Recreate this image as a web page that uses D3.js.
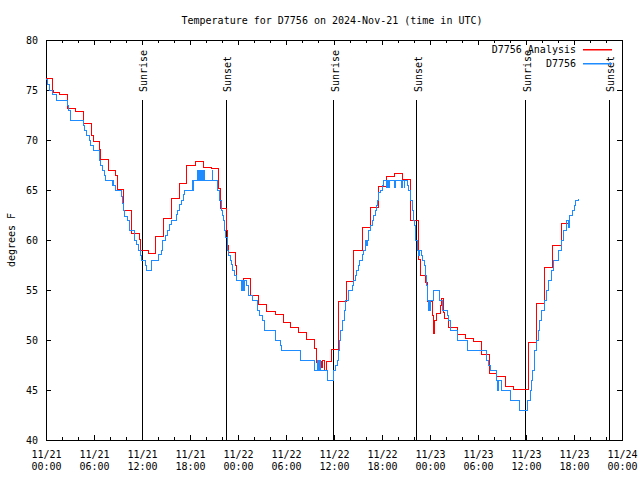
<!DOCTYPE html>
<html><head><meta charset="utf-8">
<script src="https://cdn.jsdelivr.net/npm/d3@7"></script>
<style>
body{margin:0;background:#fff}
svg text{font-family:"DejaVu Sans Mono","Liberation Mono",monospace;font-size:10px;fill:#000}
</style>
</head><body>
<svg id="chart" width="640" height="480"></svg>
<script>
// ---------------- data ----------------
const title = "Temperature for D7756 on 2024-Nov-21 (time in UTC)";
const yLabel = "degrees F";
const seriesNames = ["D7756 Analysis", "D7756"];
const startUTC = Date.UTC(2024, 10, 21);          // 11/21 00:00 UTC
const xDomainHours = [0, 72];
const yDomain = [40, 80];
const yTicks = [40, 45, 50, 55, 60, 65, 70, 75, 80];
const xMajorHours = [0, 6, 12, 18, 24, 30, 36, 42, 48, 54, 60, 66, 72];
const xMinorHours = [2, 4, 8, 10, 14, 16, 20, 22, 26, 28, 32, 34, 38, 40, 44, 46, 50, 52, 56, 58, 62, 64, 68, 70];
const sunriseHours = [11.95, 35.92, 59.9];
const sunsetHours = [22.45, 46.3, 70.33];

// analysis [hours since 11/21 00:00, deg F]
const analysis = [
[0,76.2],[0.79,75.0],[0.9,74.8],[1.74,74.6],[2.66,73.2],[3.74,72.9],[4.69,71.7],[5.69,70.5],
[5.9,69.9],[6.64,69.1],[6.85,68.1],[7.76,67.0],[8.72,66.5],[8.88,65.1],[9.63,63.0],[10.67,60.7],
[11.63,60.1],[11.79,59.0],[12.75,58.7],[13.66,60.4],[14.74,62.2],[15.65,64.2],[16.69,65.7],
[17.6,67.5],[18.68,67.9],[19.68,67.3],[20.64,67.2],[21.6,65.2],[21.85,63.2],[22.6,61.0],
[22.71,59.5],[22.83,58.8],[23.67,57.5],[23.84,56.0],[24.66,56.2],[25.6,54.5],[26.58,53.6],
[27.6,52.9],[28.65,52.6],[29.65,51.8],[30.6,51.3],[31.56,50.8],[32.55,50.1],[33.6,49.2],
[33.75,47.8],[34.0,47.2],[34.2,47.9],[34.4,47.3],[34.6,48.0],[34.8,47.0],[35.0,47.9],
[35.67,49.1],[36.5,53.9],[37.54,55.9],[38.49,59.0],[39.6,61.3],[40.57,63.3],[41.52,65.4],
[42.5,66.4],[43.5,66.7],[44.5,66.1],[45.55,62.0],[46.5,58.1],[46.8,56.5],[47.42,55.8],
[47.63,53.9],[48.25,52.5],[48.45,50.7],[48.52,52.0],[48.79,52.7],[49.29,53.5],[49.41,54.2],
[49.7,52.8],[49.78,52.2],[50.33,51.3],[51.4,50.6],[52.4,50.2],[53.44,49.9],[54.39,48.6],
[55.39,46.7],[56.34,46.4],[57.39,45.4],[58.42,45.1],[60.29,49.8],[61.32,53.7],[62.28,57.3],
[63.32,59.5],[64.44,61.7],[65.27,61.7]
];

// observations [hours since 11/21 00:00, deg F]
const observed = [
[0,76.1],[0.15,75.6],[0.42,75.0],[0.83,74.6],[1.25,74.0],[2.66,73.5],[2.78,73.0],[3.11,72.0],
[4.69,71.5],[4.8,71.0],[5.1,70.5],[5.4,70.0],[5.6,69.5],[5.9,69.0],[6.64,68.0],[6.85,67.5],
[7.06,67.0],[7.3,66.5],[7.43,66.0],[8.3,65.5],[8.36,66.0],[8.45,65.5],[8.72,65.0],[9.43,64.4],
[9.55,63.7],[9.7,63.0],[9.84,62.4],[10.13,62.0],[10.47,61.0],[11.09,60.0],[11.29,59.6],
[11.5,59.0],[11.79,58.5],[11.92,58.0],[12.46,57.5],[12.54,57.0],[13.24,58.0],[14.12,58.6],
[14.41,59.0],[14.62,60.0],[14.95,60.5],[15.16,61.0],[15.45,61.6],[15.65,62.0],[16.28,62.6],
[16.48,63.0],[16.69,63.6],[16.9,64.0],[17.19,64.6],[17.31,65.0],[18.25,66.0],[18.32,65.0],
[18.44,66.0],[18.95,67.0],[19.02,66.0],[19.2,67.0],[19.27,66.0],[19.45,67.0],[19.52,66.0],
[19.7,67.0],[19.77,66.0],[20.8,67.0],[20.87,66.0],[21.47,65.0],[21.67,64.0],[21.88,63.0],
[22.0,62.5],[22.17,62.0],[22.3,61.0],[22.42,60.3],[22.71,59.0],[22.83,58.5],[23.0,58.0],
[23.2,57.6],[23.34,57.0],[23.55,56.5],[23.75,56.0],[24.4,55.0],[24.5,56.0],[24.7,55.0],
[24.8,56.0],[25.0,55.5],[25.33,54.5],[25.83,54.0],[26.45,53.0],[26.66,52.5],[27.07,52.0],
[27.28,51.0],[28.73,50.0],[29.35,49.5],[29.48,49.0],[31.84,48.0],[33.5,47.0],[33.9,48.0],
[34.0,47.0],[34.2,48.0],[34.3,47.0],[35.17,46.0],[35.99,47.0],[36.2,47.5],[36.41,48.0],
[36.53,49.0],[36.7,50.0],[36.83,51.0],[37.04,52.0],[37.25,53.0],[37.45,54.0],[37.78,55.0],
[38.28,55.5],[38.4,56.0],[38.7,56.5],[38.82,57.0],[39.03,57.5],[39.2,58.0],[39.53,58.6],
[39.74,59.0],[39.94,60.0],[40.1,59.5],[40.2,60.0],[40.36,61.0],[40.57,61.5],[40.77,62.0],
[40.98,62.5],[41.19,63.0],[41.3,63.5],[41.4,64.0],[41.52,64.5],[41.61,64.8],[41.82,65.0],
[42.02,65.5],[42.23,66.0],[42.6,65.3],[42.7,66.0],[42.85,65.3],[42.95,66.0],[43.6,65.3],
[43.7,66.0],[44.4,65.3],[44.5,66.0],[44.75,65.3],[44.85,66.0],[45.14,65.5],[45.35,65.0],
[45.55,64.0],[45.76,63.0],[45.97,62.0],[46.1,61.5],[46.2,60.0],[46.38,59.0],[46.55,58.5],
[46.65,59.0],[46.9,58.5],[47.1,58.0],[47.35,57.5],[47.45,56.5],[47.55,55.5],[47.7,54.0],
[47.85,53.0],[47.95,54.0],[48.0,53.0],[48.1,54.0],[48.4,55.0],[49.2,54.0],[49.6,53.0],
[50.2,52.5],[50.3,52.0],[50.5,51.0],[51.45,50.0],[52.7,49.0],[55.05,48.0],[55.3,47.5],
[55.5,47.0],[56.35,46.0],[56.45,45.0],[56.55,46.0],[56.97,45.0],[58.0,44.0],[59.13,43.0],
[60.2,44.0],[60.5,45.0],[60.71,46.0],[60.83,47.0],[61.0,48.0],[61.12,49.0],[61.33,50.0],
[61.53,51.0],[61.74,52.0],[61.95,53.0],[62.28,54.0],[62.57,55.0],[62.78,56.0],[63.19,57.0],
[63.4,58.0],[64.1,59.0],[64.44,60.0],[64.65,61.0],[65.06,62.0],[65.3,61.3],[65.38,62.5],
[65.8,63.0],[66.0,63.5],[66.2,64.0],[66.52,64.1]
];

// ---------------- drawing ----------------
const toDate = h => new Date(startUTC + h * 3600e3);
const m = {left: 46, right: 622, top: 40, bottom: 440};
const svg = d3.select("#chart");

const x = d3.scaleUtc().domain(xDomainHours.map(toDate)).range([m.left, m.right]);
const y = d3.scaleLinear().domain(yDomain).range([m.bottom, m.top]);

const fmtDay = d3.utcFormat("%m/%d"), fmtTime = d3.utcFormat("%H:%M");

// title
svg.append("text").attr("x", 332).attr("y", 24).attr("text-anchor", "middle").text(title);
// y label
svg.append("text").attr("transform", "translate(15,240) rotate(-90)")
  .attr("text-anchor", "middle").text(yLabel);

// axes: bottom major
const gB = svg.append("g").attr("transform", `translate(0,${m.bottom})`)
  .call(d3.axisBottom(x).tickValues(xMajorHours.map(toDate)).tickSize(-5).tickPadding(0));
gB.selectAll(".tick text").each(function(d) {
  const t = d3.select(this).text(null).attr("y", 0).attr("dy", null);
  t.append("tspan").attr("x", 0).attr("y", 18).text(fmtDay(d));
  t.append("tspan").attr("x", 0).attr("y", 30).text(fmtTime(d));
});
// bottom minor
svg.append("g").attr("transform", `translate(0,${m.bottom})`)
  .call(d3.axisBottom(x).tickValues(xMinorHours.map(toDate)).tickSize(-3).tickFormat(""));
// top mirror
svg.append("g").attr("transform", `translate(0,${m.top})`)
  .call(d3.axisTop(x).tickValues(xMajorHours.map(toDate)).tickSize(-5).tickFormat(""));
svg.append("g").attr("transform", `translate(0,${m.top})`)
  .call(d3.axisTop(x).tickValues(xMinorHours.map(toDate)).tickSize(-3).tickFormat(""));
// left
svg.append("g").attr("transform", `translate(${m.left},0)`)
  .call(d3.axisLeft(y).tickValues(yTicks).tickSize(-5).tickPadding(8).tickFormat(d3.format("d")));
// right mirror
svg.append("g").attr("transform", `translate(${m.right},0)`)
  .call(d3.axisRight(y).tickValues(yTicks).tickSize(-5).tickFormat(""));

svg.selectAll(".domain").remove();
svg.selectAll(".tick line").attr("stroke", "#000").attr("shape-rendering", "crispEdges");
svg.selectAll(".tick text").attr("font-family", null).attr("font-size", null);

// frame
svg.append("rect").attr("x", m.left + 0.5).attr("y", m.top + 0.5)
  .attr("width", m.right - m.left).attr("height", m.bottom - m.top)
  .attr("fill", "none").attr("stroke", "#000").attr("shape-rendering", "crispEdges");

// sunrise / sunset markers
const events = sunriseHours.map(h => ({h, label: "Sunrise"}))
  .concat(sunsetHours.map(h => ({h, label: "Sunset"})));
const ev = svg.append("g");
ev.selectAll("line").data(events).join("line")
  .attr("x1", d => Math.round(x(toDate(d.h))) + 0.5).attr("x2", d => Math.round(x(toDate(d.h))) + 0.5)
  .attr("y1", y(40)).attr("y2", y(74))
  .attr("stroke", "#000").attr("stroke-width", 1).attr("shape-rendering", "crispEdges");
ev.selectAll("text").data(events).join("text")
  .attr("transform", d => `translate(${x(toDate(d.h)) + 5.5},${y(74.8)}) rotate(-90)`)
  .attr("text-anchor", "start").text(d => d.label);

// series
const line = d3.line().curve(d3.curveStepAfter)
  .x(d => x(toDate(d[0]))).y(d => y(d[1]));
const colors = ["#ff0000", "#1e8cff"];
svg.append("path").datum(analysis).attr("d", line)
  .attr("fill", "none").attr("stroke", colors[0]).attr("stroke-width", 1)
  .attr("shape-rendering", "crispEdges");
svg.append("path").datum(observed).attr("d", line)
  .attr("fill", "none").attr("stroke", colors[1]).attr("stroke-width", 1)
  .attr("shape-rendering", "crispEdges");

// legend
const leg = svg.append("g");
seriesNames.forEach((name, i) => {
  const yy = 49 + i * 14;
  leg.append("text").attr("x", 576).attr("y", yy + 3.5).attr("text-anchor", "end").text(name);
  leg.append("rect").attr("x", 583).attr("y", yy).attr("width", 29).attr("height", 1.5)
    .attr("fill", colors[i]);
});
</script>
</body></html>
